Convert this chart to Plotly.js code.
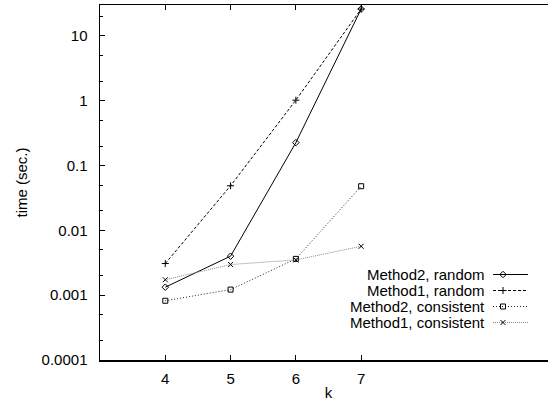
<!DOCTYPE html>
<html>
<head>
<meta charset="utf-8">
<script src="https://cdn.plot.ly/plotly-3.0.1.min.js"></script>
<style>
html,body{margin:0;padding:0;overflow:hidden;background:#fff;}
#chart{width:560px;height:402px;}
</style>
</head>
<body>
<div id="chart"></div>
<script>
// ---- data ----
const k = [4, 5, 6, 7];
const method2Random = [0.00133, 0.0040, 0.226, 26.0];
const method1Random = [0.00308, 0.0488, 1.02, 26.0];
const method2Consistent = [0.00082, 0.00122, 0.00363, 0.048];
const method1Consistent = [0.00173, 0.00297, 0.0035, 0.00568];
const seriesNames = ['Method2, random', 'Method1, random', 'Method2, consistent', 'Method1, consistent'];
const xTickVals = [4, 5, 6, 7];
const yTickVals = [0.0001, 0.001, 0.01, 0.1, 1, 10];
const yTickText = ['0.0001', '0.001', '0.01', '0.1', '1', '10'];
const yMinorVals = [0.0002, 0.0005, 0.002, 0.005, 0.02, 0.05, 0.2, 0.5, 2, 5, 20];

// ---- styles ----
const FONT = 'Liberation Sans, Arial, Helvetica, sans-serif';
const styles = [
  {line: {color: '#000', width: 1, dash: 'solid'}, marker: {symbol: 'diamond-open', size: 5, color: '#000', line: {width: 1, color: '#000'}}},
  {line: {color: '#000', width: 1, dash: '3px,2px'}, marker: {symbol: 'cross-thin', size: 5, color: '#000', line: {width: 1, color: '#000'}}},
  {line: {color: '#222', width: 1, dash: '1px,2px'}, marker: {symbol: 'square-open', size: 5, color: '#000', line: {width: 1, color: '#000'}}},
  {line: {color: '#888', width: 1, dash: '1px,1px'}, marker: {symbol: 'x-thin', size: 5, color: '#000', line: {width: 1, color: '#000'}}}
];
const series = [method2Random, method1Random, method2Consistent, method1Consistent];

const traces = series.map((ys, i) => ({
  x: k, y: ys, type: 'scatter', mode: 'lines+markers', name: seriesNames[i],
  line: styles[i].line, marker: styles[i].marker, showlegend: false, cliponaxis: false
}));

// legend (gnuplot style: text to the left of the sample), in pixel space of the plot area
const legendRowY = [274.5, 290.5, 306.5, 322.5];
const legendLineX = [493, 528];
const legendMarkX = 503;
const annotations = [];
seriesNames.forEach((nm, i) => {
  traces.push({x: legendLineX, y: [legendRowY[i], legendRowY[i]], xaxis: 'x2', yaxis: 'y2', type: 'scatter', mode: 'lines',
    line: styles[i].line, showlegend: false, hoverinfo: 'skip'});
  traces.push({x: [legendMarkX], y: [legendRowY[i]], xaxis: 'x2', yaxis: 'y2', type: 'scatter', mode: 'markers',
    marker: styles[i].marker, showlegend: false, hoverinfo: 'skip'});
  annotations.push({xref: 'x2', yref: 'y2', x: 487, y: legendRowY[i], text: nm, showarrow: false,
    xanchor: 'right', yanchor: 'middle', font: {family: FONT, size: 15, color: '#000'}});
});

const layout = {
  width: 560, height: 402,
  margin: {l: 100, r: 3, t: 5, b: 42},
  paper_bgcolor: '#fff', plot_bgcolor: '#fff',
  showlegend: false,
  font: {family: FONT, size: 15, color: '#000'},
  xaxis: {
    range: [3, 10], tickmode: 'array', tickvals: xTickVals, ticktext: xTickVals.map(String),
    ticks: 'inside', ticklen: 5, tickwidth: 1, tickcolor: '#000',
    showline: true, linecolor: '#000', linewidth: 1.5, mirror: 'ticks',
    showgrid: false, zeroline: false, ticklabelstandoff: 4,
    tickfont: {family: FONT, size: 15, color: '#000'},
    title: {text: 'k', font: {family: FONT, size: 15, color: '#000'}, standoff: 2}
  },
  yaxis: {
    type: 'log', range: [-4, Math.log10(30)], tickmode: 'array', tickvals: yTickVals, ticktext: yTickText,
    ticks: 'inside', ticklen: 5, tickwidth: 1, tickcolor: '#000',
    minor: {tickmode: 'array', tickvals: yMinorVals, ticks: 'inside', ticklen: 2.5, tickwidth: 1, tickcolor: '#000', showgrid: false},
    showline: true, linecolor: '#000', linewidth: 1.5, mirror: 'ticks',
    showgrid: false, zeroline: false, ticklabelstandoff: 8,
    tickfont: {family: FONT, size: 15, color: '#000'},
    title: {text: 'time (sec.)', font: {family: FONT, size: 15, color: '#000'}, standoff: 10}
  },
  xaxis2: {overlaying: 'x', anchor: 'y2', range: [100, 557], visible: false, fixedrange: true},
  yaxis2: {overlaying: 'y', anchor: 'x2', range: [360, 5], visible: false, fixedrange: true},
  annotations: annotations
};

Plotly.newPlot('chart', traces, layout, {staticPlot: true, displayModeBar: false});
</script>
</body>
</html>
